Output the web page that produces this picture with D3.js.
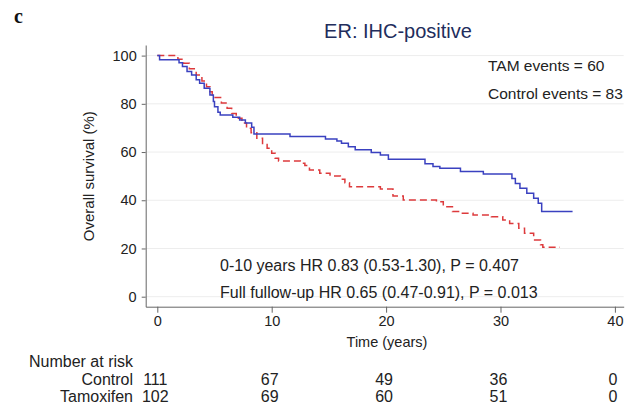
<!DOCTYPE html>
<html>
<head>
<meta charset="utf-8">
<script src="https://cdn.jsdelivr.net/npm/d3@7"></script>
<style>
  body { margin: 0; background: #fff; }
  svg { display: block; font-family: "Liberation Sans", Arial, Helvetica, sans-serif; }
</style>
</head>
<body>
<div id="chart"></div>
<script>
// Kaplan-Meier steps: time in years, survival in %
var tamTimes = [0, 0.2, 1.9, 2.2, 2.6, 3.0, 3.4, 3.7, 4.1, 4.6, 4.9, 5.0, 5.3, 5.5, 6.6, 7.2, 7.7, 8.25, 8.45,
    11.6, 14.7, 15.7, 16.1, 16.7, 17.3, 18.7, 19.5, 20.2, 23.4, 24.1, 24.7, 26.5, 28.5,
    31.0, 31.3, 31.7, 32.3, 32.9, 33.3, 33.6, 36.3];
var tamSurv = [100, 98.3, 97, 95.5, 93.4, 92, 90, 88.5, 86.5, 83.7, 81, 78.8, 76.5, 75.4, 74.4, 73.3, 72, 70.3, 67.5,
    66.4, 65.4, 64.6, 63.6, 62.2, 60.9, 59.8, 58.8, 57, 55.1, 54, 53.3, 51.9, 50.9,
    49, 47, 45, 42.9, 40.8, 38.8, 35.3, 35.3];

var ctrlTimes = [0, 1.8, 2.3, 2.8, 3.4, 3.9, 4.3, 4.6, 4.8, 5.6, 6.1, 6.5, 6.9, 7.4, 7.8, 8.2, 8.7, 9.2, 9.6,
    10.0, 10.3, 10.6, 12.5, 12.9, 13.3, 14.2, 15.1, 16.0, 16.4, 16.8, 19.5, 20.6, 21.5,
    24.4, 25.0, 25.8, 26.5, 27.6, 29.2, 30.2, 30.8, 31.6, 32.1, 32.9, 33.5, 33.7, 35.2];
var ctrlSurv = [100, 98.5, 96.8, 94.5, 92, 89.5, 87.1, 85, 82.6, 80.3, 78.2, 76, 74, 72, 69.9, 68, 65.7, 63.5, 61.6,
    59.5, 57.4, 56.3, 55.4, 54.4, 52.6, 51.2, 50.1, 48.7, 47.3, 45.6, 44.7, 41.8, 40.1,
    39.4, 37.3, 35.3, 34.6, 33.9, 33.2, 31.8, 30.4, 28.4, 26.3, 23.5, 21.5, 20.5, 20.5];

var xTicks = [0, 10, 20, 30, 40];
var yTicks = [0, 20, 40, 60, 80, 100];

var riskGroups = ["Control", "Tamoxifen"];
var riskControl = [111, 67, 49, 36, 0];
var riskTamoxifen = [102, 69, 60, 51, 0];

var eventLines = ["TAM events = 60", "Control events = 83"];
var hrLines = ["0-10 years HR 0.83 (0.53-1.30), P = 0.407",
               "Full fullow-up HR 0.65 (0.47-0.91), P = 0.013"];

var width = 631, height = 405;

var svg = d3.select("#chart").append("svg")
    .attr("width", width)
    .attr("height", height)
    .style("background-color", "#fff");

// axes sit a bit outside the data range, Stata style
var x = d3.scaleLinear().domain([-1.014, 40.77]).range([145.7, 623.7]);
var y = d3.scaleLinear().domain([-4.15, 104.4]).range([306.7, 45]);

// gridlines
svg.append("g")
    .selectAll("line")
    .data(yTicks)
    .enter().append("line")
    .attr("x1", x.range()[0])
    .attr("x2", x.range()[1])
    .attr("y1", function (d) { return y(d); })
    .attr("y2", function (d) { return y(d); })
    .attr("stroke", "#ededed")
    .attr("stroke-width", 1);

// Y axis
var yAxis = svg.append("g")
    .attr("transform", "translate(" + x.range()[0] + ",0)")
    .call(d3.axisLeft(y).tickValues(yTicks).tickSizeOuter(0).tickSizeInner(4).tickPadding(5));

// X axis
var xAxis = svg.append("g")
    .attr("transform", "translate(0," + y.range()[0] + ")")
    .call(d3.axisBottom(x).tickValues(xTicks).tickSizeOuter(0).tickSizeInner(6).tickPadding(3));

[xAxis, yAxis].forEach(function (ax) {
    ax.select(".domain").attr("stroke", "#666");
    ax.selectAll(".tick line").attr("stroke", "#666");
    ax.selectAll(".tick text")
        .attr("fill", "#222")
        .style("font-size", "14.5px")
        .style("font-family", "'Liberation Sans', Arial, sans-serif");
});

// KM curves
function toSteps(times, surv) {
    return times.map(function (t, i) { return [t, surv[i]]; });
}

var line = d3.line()
    .x(function (d) { return x(d[0]); })
    .y(function (d) { return y(d[1]); })
    .curve(d3.curveStepAfter);

svg.append("path")
    .datum(toSteps(ctrlTimes, ctrlSurv))
    .attr("d", line)
    .attr("fill", "none")
    .attr("stroke", "#dd3a3c")
    .attr("stroke-width", 1.5)
    .attr("stroke-dasharray", "7,4");

svg.append("path")
    .datum(toSteps(tamTimes, tamSurv))
    .attr("d", line)
    .attr("fill", "none")
    .attr("stroke", "#3a41c0")
    .attr("stroke-width", 1.5);

// title and panel letter
svg.append("text")
    .attr("x", 398)
    .attr("y", 38)
    .attr("text-anchor", "middle")
    .attr("fill", "#222d5c")
    .style("font-size", "20px")
    .text("ER: IHC-positive");

svg.append("text")
    .attr("x", 14)
    .attr("y", 23)
    .attr("fill", "#111")
    .style("font-family", "'Liberation Serif', 'Times New Roman', serif")
    .style("font-weight", "bold")
    .style("font-size", "20px")
    .text("c");

// axis titles
svg.append("text")
    .attr("x", 387)
    .attr("y", 347)
    .attr("text-anchor", "middle")
    .attr("fill", "#222")
    .style("font-size", "14.5px")
    .text("Time (years)");

svg.append("text")
    .attr("transform", "translate(94," + y(50) + ") rotate(-90)")
    .attr("text-anchor", "middle")
    .attr("fill", "#222")
    .style("font-size", "15px")
    .text("Overall survival (%)");

// annotations
svg.selectAll(".events")
    .data(eventLines)
    .enter().append("text")
    .attr("class", "events")
    .attr("x", 488)
    .attr("y", function (d, i) { return 71 + i * 27.5; })
    .attr("fill", "#222")
    .style("font-size", "15.5px")
    .text(function (d) { return d; });

svg.selectAll(".hr")
    .data(hrLines)
    .enter().append("text")
    .attr("class", "hr")
    .attr("x", 220)
    .attr("y", function (d, i) { return 271 + i * 26.5; })
    .attr("fill", "#222")
    .style("font-size", "16px")
    .text(function (d) { return d; });

// number at risk table
svg.append("text")
    .attr("x", 29)
    .attr("y", 367)
    .attr("fill", "#222")
    .style("font-size", "16px")
    .text("Number at risk");

var riskRows = [riskControl, riskTamoxifen];
riskRows.forEach(function (row, r) {
    var rowY = 384.5 + r * 17;
    svg.append("text")
        .attr("x", 133)
        .attr("y", rowY)
        .attr("text-anchor", "end")
        .attr("fill", "#222")
        .style("font-size", "16px")
        .text(riskGroups[r]);
    svg.append("g")
        .selectAll("text")
        .data(row)
        .enter().append("text")
        .attr("x", function (d, i) { return x(xTicks[i]) - 2; })
        .attr("y", rowY)
        .attr("text-anchor", "middle")
        .attr("fill", "#222")
        .style("font-size", "16px")
        .text(function (d) { return d; });
});
</script>
</body>
</html>
